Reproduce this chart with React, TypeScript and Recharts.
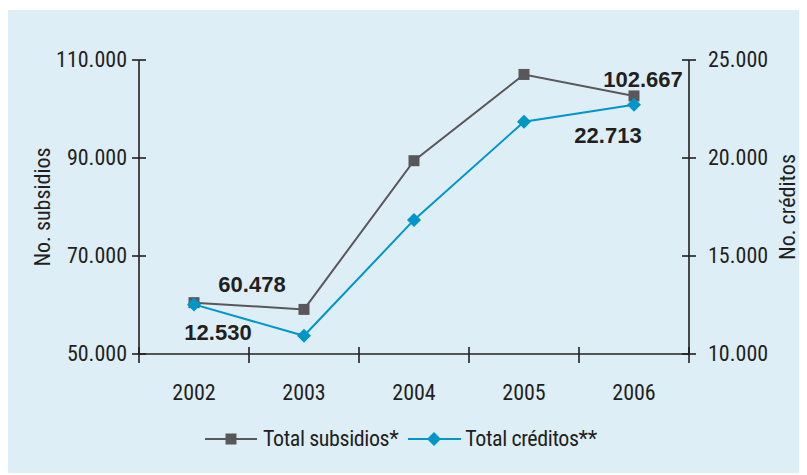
import { LineChart, Line, XAxis, YAxis, Legend, LabelList } from 'recharts';

const years = ['2002', '2003', '2004', '2005', '2006'];
const subsidios = [60478, 59100, 89450, 107050, 102667];
const creditos = [12530, 10930, 16840, 21850, 22713];
const leftTicks = [50000, 70000, 90000, 110000];
const rightTicks = [10000, 15000, 20000, 25000];
const xTicks = [-0.5, 0, 0.5, 1, 1.5, 2, 2.5, 3, 3.5, 4, 4.5];

const data = years.map((year, i) => ({ idx: i, year, subsidios: subsidios[i], creditos: creditos[i] }));

const BG = '#deeef6';
const INK = '#231f20';
const GRAY = '#58585a';
const BLUE = '#0096c8';
const NARROW = '"Liberation Sans Narrow", "Arial Narrow", "Roboto Condensed", sans-serif';
const BOLD = '"Liberation Sans", Arial, sans-serif';

const fmt = (v: number) => String(v).replace(/\B(?=(\d{3})+(?!\d))/g, '.');

// tick de la izquierda: cruz + texto
const LeftTick = ({ x, y, payload }: any) => (
  <g>
    <line x1={x - 7} x2={x + 7} y1={y} y2={y} stroke={INK} strokeWidth={1.6} />
    <text x={x - 12} y={y} dy={7} textAnchor="end" fontFamily={NARROW} fontSize={22} fill={INK}>
      {fmt(payload.value)}
    </text>
  </g>
);

const RightTick = ({ x, y, payload }: any) => (
  <g>
    <line x1={x - 7} x2={x + 7} y1={y} y2={y} stroke={INK} strokeWidth={1.6} />
    <text x={x + 19} y={y} dy={7} textAnchor="start" fontFamily={NARROW} fontSize={22} fill={INK}>
      {fmt(payload.value)}
    </text>
  </g>
);

const BottomTick = ({ x, y, payload }: any) => {
  const v = payload.value;
  if (!Number.isInteger(v)) {
    return <line x1={x} x2={x} y1={y - 7} y2={y + 9} stroke={INK} strokeWidth={1.6} />;
  }
  return (
    <text x={x} y={y + 46} textAnchor="middle" fontFamily={NARROW} fontSize={22} fill={INK}>
      {years[v]}
    </text>
  );
};

const Square = ({ cx, cy, fill }: any) => (
  <rect x={cx - 5.5} y={cy - 5.5} width={11} height={11} fill={fill} />
);
const Diamond = ({ cx, cy, fill }: any) => (
  <polygon points={`${cx},${cy - 7} ${cx + 7},${cy} ${cx},${cy + 7} ${cx - 7},${cy}`} fill={fill} />
);

// solo se rotulan el primer y último punto
const makeLabel = (offsets: Record<number, [number, number]>) => (props: any) => {
  const off = offsets[props.index];
  if (!off) return null;
  return (
    <text x={props.x + off[0]} y={props.y + off[1]} textAnchor="middle" fontFamily={BOLD}
      fontWeight="bold" fontSize={22} fill={INK}>
      {fmt(props.value)}
    </text>
  );
};

const LegendContent = () => (
  <div style={{ display: 'flex', alignItems: 'center', fontFamily: NARROW, fontSize: 22, letterSpacing: -0.4, color: INK }}>
    <svg width={53} height={20}>
      <line x1={0} x2={52} y1={10} y2={10} stroke={GRAY} strokeWidth={2} />
      <Square cx={26} cy={10} fill={GRAY} />
    </svg>
    <span style={{ marginLeft: 5 }}>Total subsidios*</span>
    <svg width={54} height={20} style={{ marginLeft: 10 }}>
      <line x1={0} x2={53} y1={10} y2={10} stroke={BLUE} strokeWidth={2} />
      <Diamond cx={26} cy={10} fill={BLUE} />
    </svg>
    <span style={{ marginLeft: 3 }}>Total créditos**</span>
  </div>
);

export default function App() {
  return (
    <div style={{ marginTop: 2, width: 799, height: 463, background: BG }}>
      <LineChart width={799} height={463} data={data} margin={{ top: 50, right: 0, left: 0, bottom: 0 }}>
        <XAxis
          type="number"
          dataKey="idx"
          domain={[-0.5, 4.5]}
          ticks={xTicks}
          interval={0}
          allowDecimals
          height={119}
          tickSize={0}
          tickMargin={0}
          tickLine={false}
          tick={<BottomTick />}
          axisLine={{ stroke: INK, strokeWidth: 1.6 }}
        />
        <YAxis
          yAxisId="left"
          domain={[50000, 110000]}
          ticks={leftTicks}
          interval={0}
          width={131}
          tickSize={0}
          tickMargin={0}
          tickLine={false}
          tick={<LeftTick />}
          axisLine={{ stroke: INK, strokeWidth: 1.6 }}
          label={{
            content: ({ viewBox }: any) => (
              <text x={viewBox.x + 34} y={viewBox.y + viewBox.height / 2}
                transform={`rotate(-90 ${viewBox.x + 34} ${viewBox.y + viewBox.height / 2})`}
                textAnchor="middle" dominantBaseline="central" fontFamily={NARROW} fontSize={22} fill={INK}>
                No. subsidios
              </text>
            ),
          }}
        />
        <YAxis
          yAxisId="right"
          orientation="right"
          domain={[10000, 25000]}
          ticks={rightTicks}
          interval={0}
          width={118}
          tickSize={0}
          tickMargin={0}
          tickLine={false}
          tick={<RightTick />}
          axisLine={{ stroke: INK, strokeWidth: 1.6 }}
          label={{
            content: ({ viewBox }: any) => (
              <text x={viewBox.x + 98} y={viewBox.y + viewBox.height / 2}
                transform={`rotate(-90 ${viewBox.x + 98} ${viewBox.y + viewBox.height / 2})`}
                textAnchor="middle" dominantBaseline="central" fontFamily={NARROW} fontSize={22} fill={INK}>
                No. créditos
              </text>
            ),
          }}
        />
        <Legend
          layout="horizontal"
          verticalAlign="middle"
          align="center"
          content={<LegendContent />}
          wrapperStyle={{ top: 416, left: 197, width: 440 }}
        />
        <Line
          yAxisId="left"
          dataKey="subsidios"
          stroke={GRAY}
          strokeWidth={2}
          dot={<Square fill={GRAY} />}
          activeDot={false}
          isAnimationActive={false}
        >
          <LabelList dataKey="subsidios" content={makeLabel({ 0: [58, -11], 4: [9, -9] })} />
        </Line>
        <Line
          yAxisId="right"
          dataKey="creditos"
          stroke={BLUE}
          strokeWidth={2}
          dot={<Diamond fill={BLUE} />}
          activeDot={false}
          isAnimationActive={false}
        >
          <LabelList dataKey="creditos" content={makeLabel({ 0: [24, 36], 4: [-26, 38] })} />
        </Line>
      </LineChart>
    </div>
  );
}
